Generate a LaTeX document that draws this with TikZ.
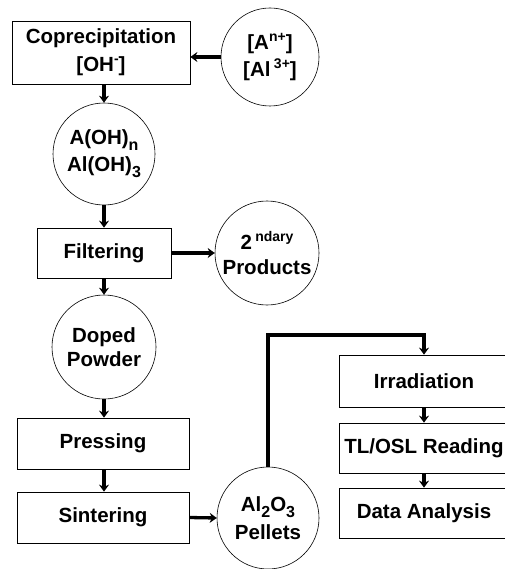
\documentclass[tikz,border=0pt]{standalone}
\usepackage{fontspec}
\setmainfont{Liberation Sans}
\usepackage{tikz}
\usetikzlibrary{arrows.meta,positioning}
\tikzset{>={Stealth[length=7pt,width=10pt]}}
\newcommand\lowidx[1]{\raisebox{-0.28em}{\fontsize{16}{16}\selectfont #1}}
\newcommand\highidx[1]{\raisebox{0.42em}{\fontsize{14}{14}\selectfont #1}}

\begin{document}
\begin{tikzpicture}[x=1pt, y=-1pt,
  font=\fontsize{20.5}{24}\selectfont\bfseries,
  procbox/.style={draw,rectangle,line width=0.7pt,minimum height=51pt,inner sep=0pt,align=center},
  matter/.style={draw,circle,line width=0.6pt,inner sep=0pt,align=center},
  flow/.style={->,line width=3.3pt}]
  \useasboundingbox (0,0) rectangle (504,569);

  % Left column
  \node[procbox,minimum width=178pt,minimum height=63pt] (copr) at (101,52.5) {Coprecipitation\\[4pt][OH\highidx{-}]};
  \node[matter,minimum size=102pt] (hydro) at (104,154) {A(OH)\lowidx{n}\\[3pt]Al(OH)\lowidx{3}};
  \node[procbox,minimum width=134pt,minimum height=50pt] (filt) at (104,253) {Filtering};
  \node[matter,minimum size=104pt] (doped) at (104,347) {Doped\\Powder};
  \node[procbox,minimum width=172pt] (press) at (103,443.5) {Pressing};
  \node[procbox,minimum width=172pt] (sint) at (103,517.5) {Sintering};

  % Side circles
  \node[matter,minimum size=98pt] (ions) at (270,57) {[A\highidx{n+}]\\[3pt][Al\,\highidx{3+}]};
  \node[matter,minimum size=104pt] (second) at (267,253) {2\,\highidx{ndary}\\[1pt]Products};
  \node[matter,minimum size=102pt] (pellets) at (268,518) {Al\lowidx{2}O\lowidx{3}\\[4pt]Pellets};

  % Right column
  \node[procbox,minimum width=170pt,minimum height=52pt] (irr) at (424,381) {Irradiation};
  \node[procbox,minimum width=170pt,minimum height=50pt] (read) at (424,448) {TL/OSL Reading};
  \node[procbox,minimum width=170pt,minimum height=50pt] (data) at (424,513) {Data Analysis};
  \coordinate (bend) at (424,335);

  % Arrows
  \draw[flow] (ions.west) -- (copr.east |- ions.west);
  \draw[flow] (hydro.north |- copr.south) -- (hydro.north);
  \draw[flow] (hydro.south) -- (filt.north);
  \draw[flow] (filt.east) -- (second.west);
  \draw[flow] (filt.south) -- (doped.north);
  \draw[flow] (doped.south) -- (doped.south |- press.north);
  \draw[flow] (doped.south |- press.south) -- (doped.south |- sint.north);
  \draw[flow] (sint.east) -- (pellets.west);
  \draw[flow] (pellets.north) |- (bend) -- (irr.north);
  \draw[flow] (irr.south) -- (read.north);
  \draw[flow] (read.south) -- (data.north);
\end{tikzpicture}
\end{document}
